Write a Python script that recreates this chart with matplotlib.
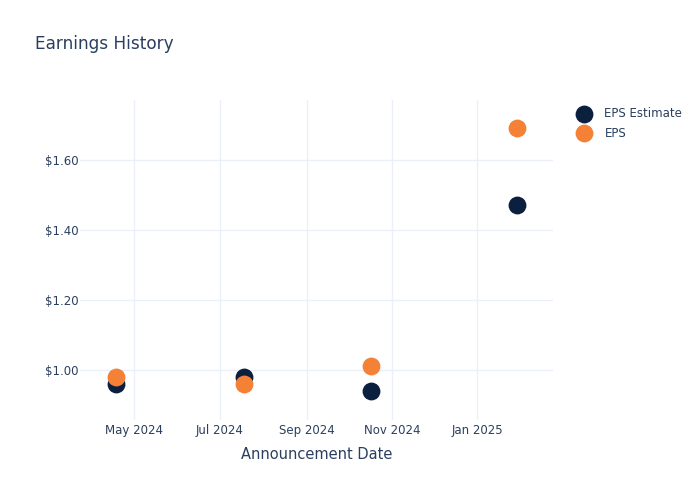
import numpy as np
import matplotlib.pyplot as plt
import matplotlib.dates as mdates
from matplotlib.ticker import FuncFormatter

# -----------------------------
# data
# -----------------------------
dates = np.array(['2024-04-18', '2024-07-18', '2024-10-17', '2025-01-29'], dtype='datetime64[D]')
eps_estimate = [0.96, 0.98, 0.94, 1.47]
eps_actual = [0.98, 0.96, 1.01, 1.69]

navy = '#0b1f3f'
orange = '#f58137'
txt = '#2a3f5f'
grid = '#ebf0f8'

fig = plt.figure(figsize=(7, 5), dpi=100)
ax = fig.add_axes([0.114, 0.16, 0.676, 0.64])

ax.scatter(dates, eps_estimate, s=165, color=navy, label='EPS Estimate', zorder=3, linewidths=0)
ax.scatter(dates, eps_actual, s=165, color=orange, label='EPS', zorder=4, linewidths=0)

ax.set_xlim(np.datetime64('2024-03-23'), np.datetime64('2025-02-24'))
ax.set_ylim(0.857, 1.771)
ax.set_yticks([1.0, 1.2, 1.4, 1.6])
ax.yaxis.set_major_formatter(FuncFormatter(lambda v, p: f'${v:.2f}'))
ax.xaxis.set_major_locator(mdates.MonthLocator(bymonth=[1, 3, 5, 7, 9, 11]))
ax.xaxis.set_major_formatter(mdates.DateFormatter('%b %Y'))

for s in ax.spines.values():
    s.set_visible(False)
ax.grid(True, color=grid, linewidth=1)
ax.set_axisbelow(True)
ax.tick_params(length=0, labelsize=8.5, labelcolor=txt)
ax.tick_params(axis='x', pad=3)
ax.tick_params(axis='y', pad=1)

ax.set_xlabel('Announcement Date', fontsize=10.5, color=txt, labelpad=7)
fig.text(0.05, 0.912, 'Earnings History', fontsize=12.2, color=txt, va='center')

ax.legend(loc='upper left', bbox_to_anchor=(1.025, 1.0), frameon=False, fontsize=8.5,
          labelcolor=txt, handletextpad=0.75, labelspacing=0.55, borderaxespad=0.2)

fig.savefig('out.png', dpi=100)
